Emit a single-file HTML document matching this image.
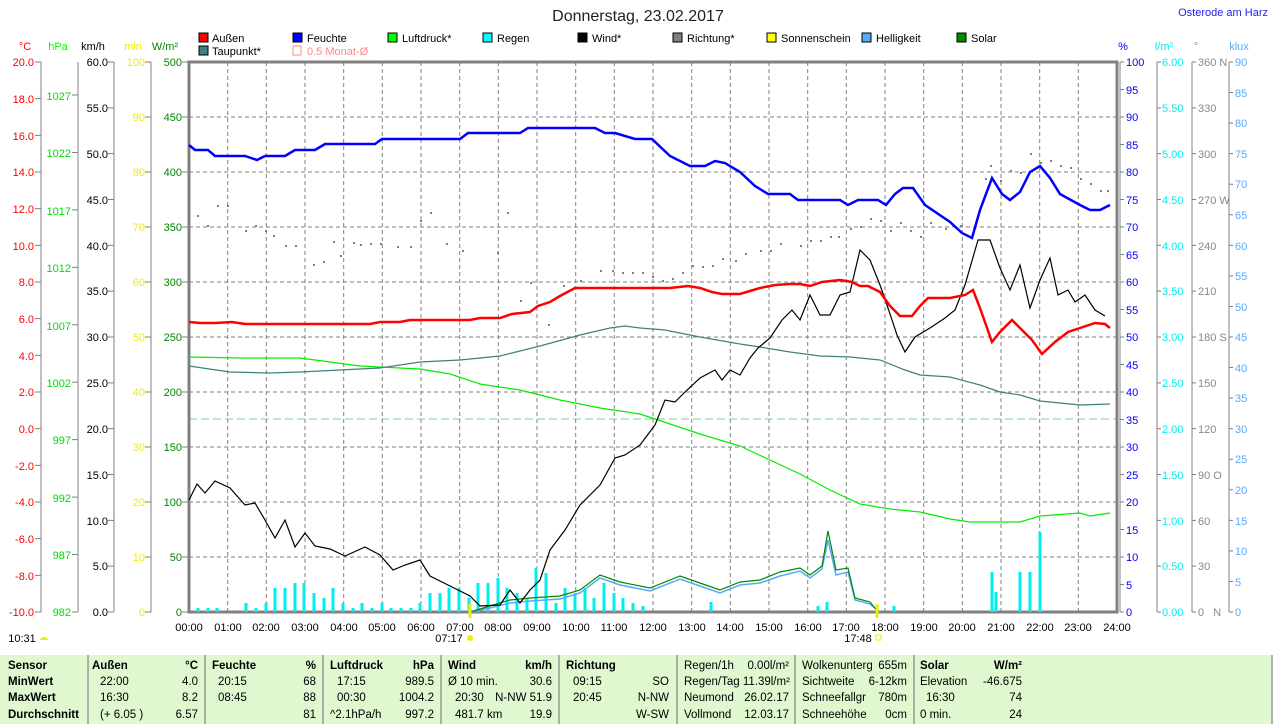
<!DOCTYPE html>
<html><head><meta charset="utf-8"><style>
body{margin:0;background:#fff;width:1274px;height:724px;overflow:hidden}
svg{display:block;font-family:"Liberation Sans",sans-serif}
</style></head><body>
<svg width="1274" height="724" viewBox="0 0 1274 724" xmlns="http://www.w3.org/2000/svg" font-size="12">
<text x="638" y="21" font-size="16" text-anchor="middle" fill="#222">Donnerstag, 23.02.2017</text>
<text x="1268" y="16" font-size="11" text-anchor="end" fill="#2222ee">Osterode am Harz</text>
<!-- legend -->
<g font-size="11" fill="#000">
<rect x="199" y="33" width="9" height="9" fill="#f00" stroke="#000"/><text x="212" y="42">Außen</text>
<rect x="293" y="33" width="9" height="9" fill="#00f" stroke="#000"/><text x="307" y="42">Feuchte</text>
<rect x="388" y="33" width="9" height="9" fill="#0f0" stroke="#000"/><text x="402" y="42">Luftdruck*</text>
<rect x="483" y="33" width="9" height="9" fill="#0ff" stroke="#000"/><text x="497" y="42">Regen</text>
<rect x="578" y="33" width="9" height="9" fill="#000" stroke="#000"/><text x="592" y="42">Wind*</text>
<rect x="673" y="33" width="9" height="9" fill="#808080" stroke="#000"/><text x="687" y="42">Richtung*</text>
<rect x="767" y="33" width="9" height="9" fill="#ff0" stroke="#000"/><text x="781" y="42">Sonnenschein</text>
<rect x="862" y="33" width="9" height="9" fill="#5af" stroke="#000"/><text x="876" y="42">Helligkeit</text>
<rect x="957" y="33" width="9" height="9" fill="#080" stroke="#000"/><text x="971" y="42">Solar</text>
<rect x="199" y="46" width="9" height="9" fill="#408080" stroke="#000"/><text x="212" y="55">Taupunkt*</text>
<rect x="293" y="46" width="8" height="9" fill="none" stroke="#f88"/><text x="307" y="55" fill="#f88">0.5 Monat-Ø</text>
</g>
<!-- axis headers -->
<g font-size="11">
<text x="25" y="50" text-anchor="middle" fill="#f00">°C</text>
<text x="58" y="50" text-anchor="middle" fill="#0f0">hPa</text>
<text x="93" y="50" text-anchor="middle" fill="#000">km/h</text>
<text x="133" y="50" text-anchor="middle" fill="#ee0">min</text>
<text x="165" y="50" text-anchor="middle" fill="#080">W/m²</text>
<text x="1123" y="50" text-anchor="middle" fill="#00f">%</text>
<text x="1164" y="50" text-anchor="middle" fill="#0ee">l/m²</text>
<text x="1196" y="50" text-anchor="middle" fill="#888">°</text>
<text x="1239" y="50" text-anchor="middle" fill="#5af">klux</text>
</g>
<!-- grid -->
<g stroke="#808080" stroke-dasharray="4,3" stroke-width="1">
<line x1="189" y1="117" x2="1117" y2="117"/><line x1="189" y1="172" x2="1117" y2="172"/><line x1="189" y1="227" x2="1117" y2="227"/><line x1="189" y1="282" x2="1117" y2="282"/><line x1="189" y1="337" x2="1117" y2="337"/><line x1="189" y1="392" x2="1117" y2="392"/><line x1="189" y1="447" x2="1117" y2="447"/><line x1="189" y1="502" x2="1117" y2="502"/><line x1="189" y1="557" x2="1117" y2="557"/>
<line x1="227.7" y1="62" x2="227.7" y2="612"/><line x1="266.3" y1="62" x2="266.3" y2="612"/><line x1="305" y1="62" x2="305" y2="612"/><line x1="343.7" y1="62" x2="343.7" y2="612"/><line x1="382.3" y1="62" x2="382.3" y2="612"/><line x1="421" y1="62" x2="421" y2="612"/><line x1="459.7" y1="62" x2="459.7" y2="612"/><line x1="498.3" y1="62" x2="498.3" y2="612"/><line x1="537" y1="62" x2="537" y2="612"/><line x1="575.7" y1="62" x2="575.7" y2="612"/><line x1="614.3" y1="62" x2="614.3" y2="612"/><line x1="653" y1="62" x2="653" y2="612"/><line x1="691.7" y1="62" x2="691.7" y2="612"/><line x1="730.3" y1="62" x2="730.3" y2="612"/><line x1="769" y1="62" x2="769" y2="612"/><line x1="807.7" y1="62" x2="807.7" y2="612"/><line x1="846.3" y1="62" x2="846.3" y2="612"/><line x1="885" y1="62" x2="885" y2="612"/><line x1="923.7" y1="62" x2="923.7" y2="612"/><line x1="962.3" y1="62" x2="962.3" y2="612"/><line x1="1001" y1="62" x2="1001" y2="612"/><line x1="1039.7" y1="62" x2="1039.7" y2="612"/><line x1="1078.3" y1="62" x2="1078.3" y2="612"/>
</g>
<line x1="189" y1="419" x2="1117" y2="419" stroke="#8c8" stroke-dasharray="8,4"/>
<!-- axes frame -->
<g stroke="#808080" fill="none">
<rect x="189" y="62" width="928" height="550" stroke-width="3"/>
<line x1="41" y1="62" x2="41" y2="612"/><line x1="78" y1="62" x2="78" y2="612"/><line x1="114" y1="62" x2="114" y2="612"/><line x1="151" y1="62" x2="151" y2="612"/>
<line x1="1120" y1="62" x2="1120" y2="612"/><line x1="1157" y1="62" x2="1157" y2="612"/><line x1="1192" y1="62" x2="1192" y2="612"/><line x1="1229" y1="62" x2="1229" y2="612"/>
</g>
<!-- ticks -->
<g stroke="#808080" fill="none">
<line x1="38" y1="61.5" x2="38" y2="613" stroke-width="6" stroke-dasharray="1 35.667"/>
<line x1="75" y1="94.5" x2="75" y2="613" stroke-width="6" stroke-dasharray="1 56.44"/>
<line x1="111" y1="61.5" x2="111" y2="613" stroke-width="6" stroke-dasharray="1 44.833"/>
<line x1="148" y1="61.5" x2="148" y2="613" stroke-width="6" stroke-dasharray="1 54"/>
<line x1="185" y1="61.5" x2="185" y2="613" stroke-width="6" stroke-dasharray="1 54"/>
<line x1="1122" y1="61.5" x2="1122" y2="613" stroke-width="4" stroke-dasharray="1 26.5"/>
<line x1="1159" y1="61.5" x2="1159" y2="613" stroke-width="4" stroke-dasharray="1 44.833"/>
<line x1="1194" y1="61.5" x2="1194" y2="613" stroke-width="4" stroke-dasharray="1 44.833"/>
<line x1="1231" y1="61.5" x2="1231" y2="613" stroke-width="4" stroke-dasharray="1 29.556"/>
</g>
<!-- left labels -->
<g font-size="11" text-anchor="end">
<g fill="#f00"><text x="34" y="66">20.0</text><text x="34" y="103">18.0</text><text x="34" y="140">16.0</text><text x="34" y="176">14.0</text><text x="34" y="213">12.0</text><text x="34" y="250">10.0</text><text x="34" y="286">8.0</text><text x="34" y="323">6.0</text><text x="34" y="360">4.0</text><text x="34" y="396">2.0</text><text x="34" y="433">0.0</text><text x="34" y="470">-2.0</text><text x="34" y="506">-4.0</text><text x="34" y="543">-6.0</text><text x="34" y="580">-8.0</text><text x="34" y="616">-10.0</text></g>
<g fill="#0d0"><text x="71" y="100">1027</text><text x="71" y="157">1022</text><text x="71" y="215">1017</text><text x="71" y="272">1012</text><text x="71" y="330">1007</text><text x="71" y="387">1002</text><text x="71" y="444">997</text><text x="71" y="502">992</text><text x="71" y="559">987</text><text x="71" y="616">982</text></g>
<g fill="#000"><text x="108" y="66">60.0</text><text x="108" y="112">55.0</text><text x="108" y="158">50.0</text><text x="108" y="204">45.0</text><text x="108" y="250">40.0</text><text x="108" y="295">35.0</text><text x="108" y="341">30.0</text><text x="108" y="387">25.0</text><text x="108" y="433">20.0</text><text x="108" y="479">15.0</text><text x="108" y="525">10.0</text><text x="108" y="570">5.0</text><text x="108" y="616">0.0</text></g>
<g fill="#ee0"><text x="145" y="66">100</text><text x="145" y="121">90</text><text x="145" y="176">80</text><text x="145" y="231">70</text><text x="145" y="286">60</text><text x="145" y="341">50</text><text x="145" y="396">40</text><text x="145" y="451">30</text><text x="145" y="506">20</text><text x="145" y="561">10</text><text x="145" y="616">0</text></g>
<g fill="#080"><text x="182" y="66">500</text><text x="182" y="121">450</text><text x="182" y="176">400</text><text x="182" y="231">350</text><text x="182" y="286">300</text><text x="182" y="341">250</text><text x="182" y="396">200</text><text x="182" y="451">150</text><text x="182" y="506">100</text><text x="182" y="561">50</text><text x="182" y="616">0</text></g>
</g>
<!-- right labels -->
<g font-size="11">
<g fill="#00f"><text x="1126" y="66">100</text><text x="1126" y="94">95</text><text x="1126" y="121">90</text><text x="1126" y="149">85</text><text x="1126" y="176">80</text><text x="1126" y="204">75</text><text x="1126" y="231">70</text><text x="1126" y="259">65</text><text x="1126" y="286">60</text><text x="1126" y="314">55</text><text x="1126" y="341">50</text><text x="1126" y="369">45</text><text x="1126" y="396">40</text><text x="1126" y="424">35</text><text x="1126" y="451">30</text><text x="1126" y="479">25</text><text x="1126" y="506">20</text><text x="1126" y="534">15</text><text x="1126" y="561">10</text><text x="1126" y="589">5</text><text x="1126" y="616">0</text></g>
<g fill="#0ee"><text x="1162" y="66">6.00</text><text x="1162" y="112">5.50</text><text x="1162" y="158">5.00</text><text x="1162" y="204">4.50</text><text x="1162" y="250">4.00</text><text x="1162" y="295">3.50</text><text x="1162" y="341">3.00</text><text x="1162" y="387">2.50</text><text x="1162" y="433">2.00</text><text x="1162" y="479">1.50</text><text x="1162" y="525">1.00</text><text x="1162" y="570">0.50</text><text x="1162" y="616">0.00</text></g>
<g fill="#888"><text x="1198" y="66">360 N</text><text x="1198" y="112">330</text><text x="1198" y="158">300</text><text x="1198" y="204">270 W</text><text x="1198" y="250">240</text><text x="1198" y="295">210</text><text x="1198" y="341">180 S</text><text x="1198" y="387">150</text><text x="1198" y="433">120</text><text x="1198" y="479">90 O</text><text x="1198" y="525">60</text><text x="1198" y="570">30</text><text x="1198" y="616">0 &#160;&#160;N</text></g>
<g fill="#5af"><text x="1235" y="66">90</text><text x="1235" y="97">85</text><text x="1235" y="127">80</text><text x="1235" y="158">75</text><text x="1235" y="188">70</text><text x="1235" y="219">65</text><text x="1235" y="250">60</text><text x="1235" y="280">55</text><text x="1235" y="311">50</text><text x="1235" y="341">45</text><text x="1235" y="372">40</text><text x="1235" y="402">35</text><text x="1235" y="433">30</text><text x="1235" y="463">25</text><text x="1235" y="494">20</text><text x="1235" y="525">15</text><text x="1235" y="555">10</text><text x="1235" y="586">5</text><text x="1235" y="616">0</text></g>
</g>
<!-- rain bars -->
<g stroke="#0ee" stroke-width="3">
<path d="M198 612v-4M208 612v-4M217 612v-4M246 612v-9M256 612v-4M266 612v-9M275 612v-24M285 612v-24M295 612v-29M304 612v-29M314 612v-19M324 612v-14M333 612v-24M343 612v-9M353 612v-4M362 612v-9M372 612v-4M382 612v-9M391 612v-4M401 612v-4M411 612v-4M420 612v-9M430 612v-19M440 612v-19M449 612v-24M459 612v-24M469 612v-14M478 612v-29M488 612v-29M498 612v-34M507 612v-24M517 612v-19M527 612v-14M536 612v-44M546 612v-39M556 612v-9M565 612v-24M575 612v-19M585 612v-24M594 612v-14M604 612v-29M614 612v-19M623 612v-14M633 612v-9M643 612v-6M711 612v-10M818 612v-6M827 612v-10M894 612v-6M992 612v-40M996 612v-20M1020 612v-40M1030 612v-40M1040 612v-80"/>
</g>
<!-- solar/helligkeit -->
<polyline fill="none" stroke="#5af" stroke-width="1.5" points="470,612 490,608 510,603 530,601 560,599 580,593 600,578 620,585 650,591 680,579 700,586 720,593 740,585 760,583 780,576 800,571 810,578 822,569 828,540 836,575 848,572 855,600 870,604 880,612"/>
<polyline fill="none" stroke="#080" stroke-width="1.2" points="470,612 490,606 510,600 530,598 560,596 580,590 600,575 620,582 650,588 680,576 700,583 720,590 740,582 760,580 780,572 800,568 810,575 822,566 828,531 836,570 848,568 855,598 870,602 878,612"/>
<line x1="470" y1="604" x2="470" y2="618" stroke="#ee0" stroke-width="3"/>
<line x1="877" y1="604" x2="877" y2="618" stroke="#ee0" stroke-width="3"/>
<!-- luftdruck -->
<polyline fill="none" stroke="#0e0" stroke-width="1.2" points="189,357 240,358 300,358 330,362 360,366 420,369 450,374 480,384 520,390 560,400 600,408 640,414 670,424 700,434 740,446 770,460 800,474 830,490 860,504 890,509 920,512 950,519 970,522 1020,522 1040,516 1080,513 1090,516 1110,513"/>
<!-- taupunkt -->
<polyline fill="none" stroke="#408080" stroke-width="1.2" points="189,366 230,372 270,373 300,372 340,370 380,368 420,362 460,360 500,356 540,346 580,335 610,328 625,326 640,328 665,330 700,337 740,344 760,347 790,352 820,356 850,357 880,360 905,370 920,375 950,377 980,385 1000,392 1020,395 1040,401 1060,403 1080,405 1110,404"/>
<!-- richtung dots -->
<g fill="#808080">
<path d="M197 215h2v2h-2zM207 225h2v2h-2zM217 205h2v2h-2zM227 205h2v2h-2zM245 230h2v2h-2zM255 225h2v2h-2zM265 230h2v2h-2zM273 235h2v2h-2zM285 245h2v2h-2zM295 245h2v2h-2zM313 264h2v2h-2zM323 261h2v2h-2zM333 241h2v2h-2zM340 255h2v2h-2zM353 242h2v2h-2zM360 244h2v2h-2zM370 243h2v2h-2zM380 243h2v2h-2zM397 246h2v2h-2zM410 246h2v2h-2zM420 220h2v2h-2zM430 212h2v2h-2zM446 243h2v2h-2zM462 250h2v2h-2zM497 252h2v2h-2zM507 212h2v2h-2zM520 300h2v2h-2zM530 282h2v2h-2zM548 324h2v2h-2zM563 285h2v2h-2zM580 280h2v2h-2zM600 270h2v2h-2zM612 270h2v2h-2zM622 272h2v2h-2zM632 272h2v2h-2zM642 272h2v2h-2zM652 276h2v2h-2zM662 280h2v2h-2zM672 278h2v2h-2zM682 272h2v2h-2zM692 265h2v2h-2zM702 266h2v2h-2zM712 265h2v2h-2zM722 258h2v2h-2zM735 260h2v2h-2zM745 253h2v2h-2zM760 250h2v2h-2zM770 250h2v2h-2zM780 243h2v2h-2zM800 245h2v2h-2zM810 240h2v2h-2zM820 240h2v2h-2zM830 236h2v2h-2zM838 236h2v2h-2zM850 228h2v2h-2zM860 226h2v2h-2zM870 218h2v2h-2zM880 220h2v2h-2zM890 230h2v2h-2zM900 222h2v2h-2zM910 230h2v2h-2zM920 236h2v2h-2zM930 222h2v2h-2zM945 228h2v2h-2zM960 225h2v2h-2zM975 222h2v2h-2zM985 178h2v2h-2zM990 165h2v2h-2zM1000 180h2v2h-2zM1010 170h2v2h-2zM1020 172h2v2h-2zM1030 153h2v2h-2zM1040 162h2v2h-2zM1050 160h2v2h-2zM1060 165h2v2h-2zM1070 167h2v2h-2zM1080 178h2v2h-2zM1090 183h2v2h-2zM1100 190h2v2h-2zM1107 190h2v2h-2z"/>
</g>
<!-- wind -->
<polyline fill="none" stroke="#000" stroke-width="1.2" points="189,500 197,484 205,493 215,481 230,488 245,505 255,503 265,520 275,538 285,520 295,547 305,533 315,546 330,549 345,556 365,547 380,555 393,570 405,565 420,560 430,576 450,586 470,596 480,606 500,605 510,590 520,603 530,590 540,580 550,550 565,530 580,505 600,485 615,458 625,455 640,445 655,425 665,400 675,402 685,392 700,378 715,370 722,380 730,370 740,375 750,358 758,348 770,338 782,320 792,310 800,320 810,295 820,315 830,315 840,295 850,292 860,250 870,260 880,285 887,305 897,335 905,352 915,337 930,328 945,318 955,310 965,285 978,240 990,240 1000,268 1010,290 1020,265 1030,308 1040,280 1050,258 1058,295 1068,290 1075,302 1085,295 1095,310 1105,316"/>
<!-- feuchte -->
<polyline fill="none" stroke="#00f" stroke-width="2.5" points="189,145 195,150 208,150 215,156 245,156 257,160 265,156 285,156 295,150 315,150 325,144 375,144 382,139 460,139 468,133 520,133 528,128 595,128 605,133 615,133 635,139 652,139 670,156 690,166 705,166 715,161 725,163 740,172 755,186 768,194 790,194 798,200 840,200 848,205 858,200 878,200 886,205 895,194 903,188 913,188 925,205 950,222 962,233 972,238 980,210 992,178 1002,194 1010,200 1020,192 1030,172 1040,166 1050,178 1060,194 1080,205 1090,210 1100,210 1110,205"/>
<!-- aussen -->
<polyline fill="none" stroke="#f00" stroke-width="2.5" points="189,322 200,323 215,323 232,322 245,324 370,324 380,322 400,322 410,320 470,320 480,318 500,318 512,314 530,312 538,306 550,302 560,296 575,288 650,288 670,288 688,286 700,288 712,292 722,294 740,294 760,288 775,285 790,284 800,284 810,286 822,282 840,280 852,282 860,286 868,286 880,292 890,306 900,316 912,316 920,306 928,298 950,298 965,295 973,290 980,308 992,342 1000,332 1012,320 1022,330 1032,340 1042,354 1055,342 1068,332 1080,328 1095,323 1105,324 1110,328"/>
<!-- time labels -->
<g font-size="11" text-anchor="middle" fill="#000">
<text x="189" y="631">00:00</text><text x="228" y="631">01:00</text><text x="266" y="631">02:00</text><text x="305" y="631">03:00</text><text x="344" y="631">04:00</text><text x="382" y="631">05:00</text><text x="421" y="631">06:00</text><text x="460" y="631">07:00</text><text x="498" y="631">08:00</text><text x="537" y="631">09:00</text><text x="576" y="631">10:00</text><text x="614" y="631">11:00</text><text x="653" y="631">12:00</text><text x="692" y="631">13:00</text><text x="730" y="631">14:00</text><text x="769" y="631">15:00</text><text x="808" y="631">16:00</text><text x="846" y="631">17:00</text><text x="885" y="631">18:00</text><text x="924" y="631">19:00</text><text x="962" y="631">20:00</text><text x="1001" y="631">21:00</text><text x="1040" y="631">22:00</text><text x="1078" y="631">23:00</text><text x="1117" y="631">24:00</text>
<text x="449" y="642">07:17</text><text x="858" y="642">17:48</text><text x="22" y="642">10:31</text>
</g>
<circle cx="470" cy="638" r="3" fill="#ee0"/>
<rect x="876" y="635" width="5" height="5" fill="none" stroke="#ee0"/>
<path d="M40 640a4 3 0 0 1 8 0z" fill="#ee0"/>
<!-- table -->
<rect x="0" y="655" width="1272" height="69" fill="#e0f8d0"/>
<g stroke="#999" stroke-width="1.5"><line x1="88" y1="655" x2="88" y2="724"/><line x1="205" y1="655" x2="205" y2="724"/><line x1="323" y1="655" x2="323" y2="724"/><line x1="441" y1="655" x2="441" y2="724"/><line x1="559" y1="655" x2="559" y2="724"/><line x1="677" y1="655" x2="677" y2="724"/><line x1="795" y1="655" x2="795" y2="724"/><line x1="914" y1="655" x2="914" y2="724"/><line x1="1272" y1="655" x2="1272" y2="724"/></g>
<g font-size="11.5" fill="#000">
<g font-weight="bold"><text x="8" y="669">Sensor</text><text x="8" y="685">MinWert</text><text x="8" y="701">MaxWert</text><text x="8" y="718">Durchschnitt</text>
<text x="92" y="669">Außen</text><text x="198" y="669" text-anchor="end">°C</text><text x="212" y="669">Feuchte</text><text x="316" y="669" text-anchor="end">%</text><text x="330" y="669">Luftdruck</text><text x="434" y="669" text-anchor="end">hPa</text><text x="448" y="669">Wind</text><text x="552" y="669" text-anchor="end">km/h</text><text x="566" y="669">Richtung</text><text x="920" y="669">Solar</text><text x="1022" y="669" text-anchor="end">W/m²</text></g>
<text x="100" y="685">22:00</text><text x="198" y="685" text-anchor="end">4.0</text><text x="100" y="701">16:30</text><text x="198" y="701" text-anchor="end">8.2</text><text x="100" y="718">(+ 6.05 )</text><text x="198" y="718" text-anchor="end">6.57</text>
<text x="218" y="685">20:15</text><text x="316" y="685" text-anchor="end">68</text><text x="218" y="701">08:45</text><text x="316" y="701" text-anchor="end">88</text><text x="316" y="718" text-anchor="end">81</text>
<text x="337" y="685">17:15</text><text x="434" y="685" text-anchor="end">989.5</text><text x="337" y="701">00:30</text><text x="434" y="701" text-anchor="end">1004.2</text><text x="330" y="718">^2.1hPa/h</text><text x="434" y="718" text-anchor="end">997.2</text>
<text x="448" y="685">Ø 10 min.</text><text x="552" y="685" text-anchor="end">30.6</text><text x="455" y="701">20:30</text><text x="552" y="701" text-anchor="end">N-NW 51.9</text><text x="455" y="718">481.7 km</text><text x="552" y="718" text-anchor="end">19.9</text>
<text x="573" y="685">09:15</text><text x="669" y="685" text-anchor="end">SO</text><text x="573" y="701">20:45</text><text x="669" y="701" text-anchor="end">N-NW</text><text x="669" y="718" text-anchor="end">W-SW</text>
<text x="684" y="669">Regen/1h</text><text x="789" y="669" text-anchor="end">0.00l/m²</text><text x="684" y="685">Regen/Tag 11.39l/m²</text><text x="684" y="701">Neumond</text><text x="789" y="701" text-anchor="end">26.02.17</text><text x="684" y="718">Vollmond</text><text x="789" y="718" text-anchor="end">12.03.17</text>
<text x="802" y="669">Wolkenunterg</text><text x="907" y="669" text-anchor="end">655m</text><text x="802" y="685">Sichtweite</text><text x="907" y="685" text-anchor="end">6-12km</text><text x="802" y="701">Schneefallgr</text><text x="907" y="701" text-anchor="end">780m</text><text x="802" y="718">Schneehöhe</text><text x="907" y="718" text-anchor="end">0cm</text>
<text x="920" y="685">Elevation</text><text x="1022" y="685" text-anchor="end">-46.675</text><text x="926" y="701">16:30</text><text x="1022" y="701" text-anchor="end">74</text><text x="920" y="718">0 min.</text><text x="1022" y="718" text-anchor="end">24</text>
</g>
</svg>
</body></html>
